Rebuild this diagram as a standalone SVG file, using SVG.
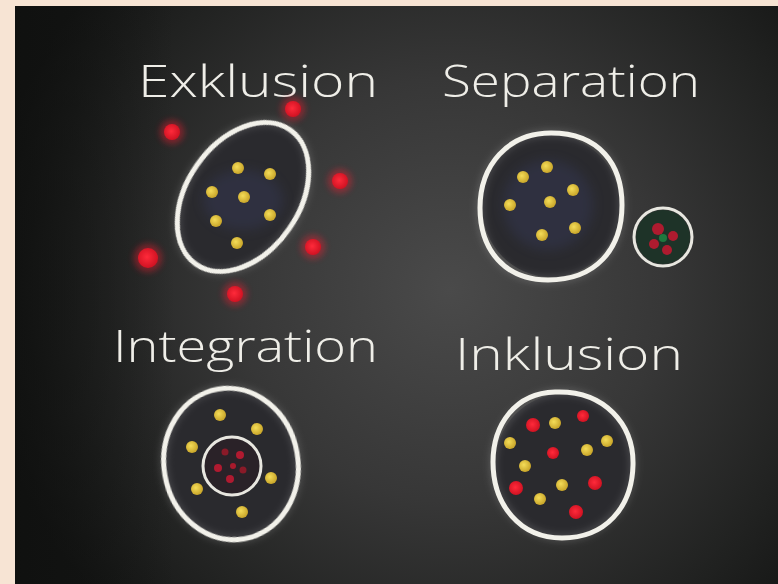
<svg xmlns="http://www.w3.org/2000/svg" width="778" height="584" viewBox="0 0 778 584">
<defs>
<radialGradient id="board" cx="450" cy="290" r="470" gradientUnits="userSpaceOnUse">
<stop offset="0" stop-color="#4a4a4a"/>
<stop offset="0.45" stop-color="#373737"/>
<stop offset="0.8" stop-color="#212221"/>
<stop offset="1" stop-color="#141514"/>
</radialGradient>
<linearGradient id="leftshade" x1="0" y1="0" x2="1" y2="0">
<stop offset="0" stop-color="#0e0f0e" stop-opacity="0.7"/>
<stop offset="1" stop-color="#0e0f0e" stop-opacity="0"/>
</linearGradient>
<filter id="glow" x="-100%" y="-100%" width="300%" height="300%">
<feGaussianBlur stdDeviation="3"/>
</filter>
<filter id="dust" x="-30%" y="-30%" width="160%" height="160%">
<feGaussianBlur stdDeviation="6"/>
</filter>
<filter id="soft" x="-10%" y="-10%" width="120%" height="120%">
<feGaussianBlur stdDeviation="0.6"/>
</filter>
<radialGradient id="yel" cx="0.4" cy="0.4" r="0.6">
<stop offset="0" stop-color="#f4dc58"/>
<stop offset="1" stop-color="#c9a62a"/>
</radialGradient>
<radialGradient id="red" cx="0.45" cy="0.45" r="0.6">
<stop offset="0" stop-color="#ff2a3a"/>
<stop offset="1" stop-color="#cc1020"/>
</radialGradient>
</defs>
<style>
.lbl{font-family:"Open Sans","DejaVu Sans",sans-serif;font-weight:300;font-size:45px;fill:#efeee8}
.chalk{fill:none;stroke:#f2f1ea;stroke-width:5;filter:url(#soft)}
.chalkglow{fill:none;stroke:#ffffff;stroke-opacity:0.12;stroke-width:9;filter:url(#glow)}
.thin{fill:none;stroke:#e8e7e0;stroke-width:3;filter:url(#soft)}
.y{fill:url(#yel)}
.r{fill:url(#red)}
.rg{fill:#ff1e30;opacity:0.4;filter:url(#glow)}
.inner{fill:#2a2a2e}
</style>
<rect x="0" y="0" width="778" height="584" fill="#f7e4d4"/>
<rect x="15" y="6" width="763" height="578" fill="url(#board)"/>
<rect x="15" y="6" width="160" height="578" fill="url(#leftshade)"/>

<g id="exklusion">
<text class="lbl" x="138" y="97" textLength="240" lengthAdjust="spacingAndGlyphs">Exklusion</text>
<ellipse class="inner" cx="243" cy="197" rx="80" ry="54" transform="rotate(-55 243 197)"/>
<ellipse cx="243" cy="200" rx="40" ry="30" fill="#3a3f6a" opacity="0.3" filter="url(#dust)"/>
<ellipse class="chalkglow" cx="243" cy="197" rx="82" ry="56" transform="rotate(-55 243 197)"/>
<ellipse class="chalk" cx="243" cy="197" rx="82" ry="56" transform="rotate(-55 243 197)"/>
<circle class="y" cx="238" cy="168" r="6"/>
<circle class="y" cx="270" cy="174" r="6"/>
<circle class="y" cx="212" cy="192" r="6"/>
<circle class="y" cx="244" cy="197" r="6"/>
<circle class="y" cx="270" cy="215" r="6"/>
<circle class="y" cx="216" cy="221" r="6"/>
<circle class="y" cx="237" cy="243" r="6"/>
<circle class="rg" cx="172" cy="132" r="12"/>
<circle class="r" cx="172" cy="132" r="8"/>
<circle class="rg" cx="293" cy="109" r="12"/>
<circle class="r" cx="293" cy="109" r="8"/>
<circle class="rg" cx="340" cy="181" r="12"/>
<circle class="r" cx="340" cy="181" r="8"/>
<circle class="rg" cx="313" cy="247" r="12"/>
<circle class="r" cx="313" cy="247" r="8"/>
<circle class="rg" cx="148" cy="258" r="14"/>
<circle class="r" cx="148" cy="258" r="10"/>
<circle class="rg" cx="235" cy="294" r="12"/>
<circle class="r" cx="235" cy="294" r="8"/>
</g>

<g id="separation">
<text class="lbl" x="442" y="97" textLength="258" lengthAdjust="spacingAndGlyphs">Separation</text>
<ellipse class="inner" cx="551" cy="206" rx="69" ry="71"/>
<ellipse cx="548" cy="205" rx="45" ry="45" fill="#3a3f6a" opacity="0.3" filter="url(#dust)"/>
<path class="chalkglow" d="M551 133 C600 133 622 165 622 205 C622 250 595 280 548 280 C505 280 480 250 480 208 C480 165 508 133 551 133 Z"/>
<path class="chalk" d="M551 133 C600 133 622 165 622 205 C622 250 595 280 548 280 C505 280 480 250 480 208 C480 165 508 133 551 133 Z"/>
<circle class="y" cx="547" cy="167" r="6"/>
<circle class="y" cx="523" cy="177" r="6"/>
<circle class="y" cx="573" cy="190" r="6"/>
<circle class="y" cx="510" cy="205" r="6"/>
<circle class="y" cx="550" cy="202" r="6"/>
<circle class="y" cx="575" cy="228" r="6"/>
<circle class="y" cx="542" cy="235" r="6"/>
<circle cx="663" cy="237" r="27" fill="#1e3328"/>
<circle cx="658" cy="229" r="6" fill="#c81830" opacity="0.85"/>
<circle cx="673" cy="236" r="5" fill="#c81830" opacity="0.85"/>
<circle cx="654" cy="244" r="5" fill="#c81830" opacity="0.85"/>
<circle cx="667" cy="250" r="5" fill="#c81830" opacity="0.85"/>
<circle cx="663" cy="238" r="4" fill="#1f8040" opacity="0.9"/>
<circle class="thin" cx="663" cy="237" r="29"/>
</g>

<g id="integration">
<text class="lbl" x="113" y="362" textLength="265" lengthAdjust="spacingAndGlyphs">Integration</text>
<ellipse class="inner" cx="231" cy="464" rx="65" ry="74" transform="rotate(-10 231 464)"/>
<ellipse class="chalkglow" cx="231" cy="464" rx="67" ry="76" transform="rotate(-10 231 464)"/>
<ellipse class="chalk" cx="231" cy="464" rx="67" ry="76" transform="rotate(-10 231 464)"/>
<circle class="y" cx="220" cy="415" r="6"/>
<circle class="y" cx="257" cy="429" r="6"/>
<circle class="y" cx="192" cy="447" r="6"/>
<circle class="y" cx="271" cy="478" r="6"/>
<circle class="y" cx="197" cy="489" r="6"/>
<circle class="y" cx="242" cy="512" r="6"/>
<circle cx="232" cy="466" r="28" fill="#2a2228"/>
<circle cx="218" cy="468" r="4" fill="#b01a30"/>
<circle cx="240" cy="455" r="4" fill="#b01a30"/>
<circle cx="230" cy="479" r="4" fill="#b01a30"/>
<circle cx="225" cy="452" r="3.5" fill="#8a1a28"/>
<circle cx="243" cy="470" r="3.5" fill="#8a1a28"/>
<circle cx="233" cy="466" r="3" fill="#a81a2c"/>
<circle class="thin" cx="232" cy="466" r="29"/>
</g>

<g id="inklusion">
<text class="lbl" x="455" y="370" textLength="228" lengthAdjust="spacingAndGlyphs">Inklusion</text>
<ellipse class="inner" cx="563" cy="465" rx="68" ry="71"/>
<ellipse class="chalkglow" cx="563" cy="465" rx="70" ry="73"/>
<path class="chalk" d="M555 392 C605 390 634 425 633 465 C632 508 605 538 562 538 C520 538 493 505 493 462 C493 425 515 393 555 392 Z"/>
<circle class="r" cx="533" cy="425" r="7"/>
<circle class="y" cx="555" cy="423" r="6"/>
<circle class="r" cx="583" cy="416" r="6"/>
<circle class="y" cx="510" cy="443" r="6"/>
<circle class="y" cx="607" cy="441" r="6"/>
<circle class="r" cx="553" cy="453" r="6"/>
<circle class="y" cx="587" cy="450" r="6"/>
<circle class="y" cx="525" cy="466" r="6"/>
<circle class="r" cx="595" cy="483" r="7"/>
<circle class="y" cx="562" cy="485" r="6"/>
<circle class="r" cx="516" cy="488" r="7"/>
<circle class="y" cx="540" cy="499" r="6"/>
<circle class="r" cx="576" cy="512" r="7"/>
</g>
</svg>
